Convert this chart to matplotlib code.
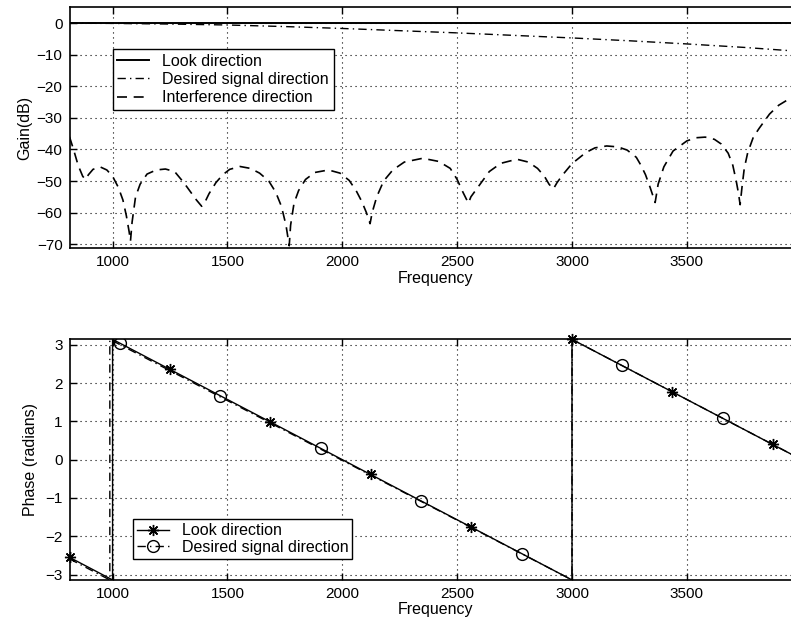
import matplotlib
matplotlib.use("Agg")
import matplotlib.pyplot as plt
from matplotlib.lines import Line2D

plt.rcParams['font.family'] = ['Liberation Sans', 'DejaVu Sans']

# ---------------- data ----------------
# Top: gain (dB) vs frequency
look_gain_f = [812.5, 4000]
look_gain_db = [0, 0]

desired_gain_f = [812.5, 1000, 1250, 1500, 1750, 2000, 2250, 2500, 2750, 3000, 3250, 3500, 3750, 4000]
desired_gain_db = [0, -0.1, -0.3, -0.6, -1.1, -1.7, -2.4, -3.1, -3.9, -4.7, -5.6, -6.6, -7.7, -9.0]

interf_f = [812.5, 830, 850, 870, 882,
            895, 915, 945, 975, 1000, 1025, 1045, 1060, 1072, 1078,
            1085, 1100, 1120, 1150, 1190, 1230, 1270, 1310, 1340, 1365, 1388,
            1400, 1420, 1450, 1480, 1510, 1555, 1600, 1640, 1680, 1710, 1735, 1755, 1769,
            1775, 1790, 1810, 1840, 1880, 1940, 1990, 2030, 2060, 2085, 2105, 2121,
            2130, 2150, 2180, 2220, 2270, 2350, 2420, 2470, 2500, 2525, 2549,
            2560, 2580, 2600, 2640, 2690, 2760, 2810, 2850, 2880, 2900, 2919,
            2935, 2960, 3000, 3060, 3100, 3151, 3200, 3240, 3280, 3300, 3320, 3340, 3362,
            3375, 3400, 3440, 3500, 3540, 3580, 3620, 3650, 3680, 3700, 3715, 3725, 3732,
            3740, 3750, 3765, 3790, 3815, 3860, 3900, 3950, 4000]
interf_db = [-36, -40, -45, -48.5, -49.5,
             -48, -46.3, -45.5, -46.5, -48.5, -52, -56, -61, -66, -69,
             -63, -55, -51, -47.8, -46.5, -46.2, -47, -50.5, -53.5, -56, -58,
             -57, -54, -50.5, -48, -46.3, -45.4, -46, -47.5, -50, -53.5, -58, -64, -70.5,
             -64, -57, -53, -49.5, -47.3, -46.5, -47.5, -49.8, -53, -56.5, -60, -63.5,
             -60, -55, -50, -46.5, -44, -42.8, -43.8, -46, -49.5, -53.5, -57,
             -55, -53, -51, -47, -44.4, -43.1, -44, -46, -48.5, -51, -52.5,
             -50.5, -48, -44.5, -41, -39.5, -38.9, -39.2, -40.2, -42.5, -45, -48, -52, -56.8,
             -51, -45.5, -40.5, -37.3, -36.3, -36.1, -36.8, -38.3, -41.2, -45, -50, -54, -57.5,
             -52, -46, -41, -36, -33.3, -28.8, -26, -23.8, -22]

# Bottom: phase (radians) vs frequency
look_phase_f = [812.5, 1000, 1000, 3000, 3000, 4000]
look_phase = [-2.55, -3.14, 3.14, -3.14, 3.14, 0.0]
look_star_f = [812.5, 1250, 1687.5, 2125, 2562.5, 3000, 3437.5, 3875]
look_star_ph = [-2.55, 2.36, 0.99, -0.38, -1.76, 3.14, 1.77, 0.40]

desired_phase_f = [812.5, 988, 988, 3000, 3000, 4000]
desired_phase = [-2.59, -3.14, 3.14, -3.14, 3.14, 0.0]
desired_circ_f = [1031.25, 1468.75, 1906.25, 2343.75, 2781.25, 3218.75, 3656.25]
desired_circ_ph = [3.05, 1.66, 0.30, -1.08, -2.45, 2.46, 1.09]

gain_ticks = [0, -10, -20, -30, -40, -50, -60, -70]
phase_ticks = [-3, -2, -1, 0, 1, 2, 3]
freq_ticks = [1000, 1500, 2000, 2500, 3000, 3500]

# ---------------- figure ----------------
W, H = 791, 626
fig = plt.figure(figsize=(W / 100, H / 100), dpi=100)

left = 69.5 / W
width = 732.2 / W
ax1 = fig.add_axes([left, 1 - 248.3 / H, width, 241.0 / H])
ax2 = fig.add_axes([left, 1 - 580.0 / H, width, 240.7 / H])

dash_style = (0, (6, 4))
dashdot_style = (0, (6, 3, 1, 3))
grid_style = (0, (1, 3.5))

for ax in (ax1, ax2):
    ax.set_xlim(812.5, 4000)
    ax.set_xticks(freq_ticks)
    ax.tick_params(direction='in', top=True, right=True, length=5, width=1,
                   labelsize=11, colors='black', pad=5)
    ax.grid(True, color='black', linestyle=grid_style, linewidth=0.8)
    for s in ax.spines.values():
        s.set_linewidth(1.2)
    ax.set_xlabel('Frequency', fontsize=11.5, labelpad=1)

# Top plot
ax1.plot(look_gain_f, look_gain_db, color='black', linewidth=1.4, linestyle='-',
         label='Look direction')
ax1.plot(desired_gain_f, desired_gain_db, color='black', linewidth=1.0,
         linestyle=dashdot_style, label='Desired signal direction')
ax1.plot(interf_f, interf_db, color='black', linewidth=1.2, linestyle=dash_style,
         label='Interference direction')
ax1.set_ylim(-71.3, 5)
ax1.set_yticks(gain_ticks)
ax1.set_yticklabels(['0', '\u221210', '\u221220', '\u221230', '\u221240', '\u221250',
                     '\u221260', '\u221270'])
ax1.set_ylabel('Gain(dB)', fontsize=11.5, labelpad=3)
leg1 = ax1.legend(loc='upper left', bbox_to_anchor=(0.059, 0.827), borderaxespad=0,
                  fontsize=11.5, frameon=True, fancybox=False, edgecolor='black',
                  framealpha=1, handlelength=2.0, labelspacing=0.2,
                  borderpad=0.3, handletextpad=0.8)
leg1.get_frame().set_linewidth(1.0)

# Bottom plot
ax2.plot(desired_phase_f, desired_phase, color='black', linewidth=1.0,
         linestyle=dashdot_style)
ax2.plot(look_phase_f, look_phase, color='black', linewidth=1.0, linestyle='-')
ax2.plot(look_star_f, look_star_ph, linestyle='none', marker=(8, 2, 0),
         markersize=8, markeredgecolor='black', markeredgewidth=1.0, clip_on=False)
ax2.plot(desired_circ_f, desired_circ_ph, linestyle='none', marker='o',
         markersize=8.5, markerfacecolor='none', markeredgecolor='black',
         markeredgewidth=1.0)
ax2.set_ylim(-3.14159, 3.14159)
ax2.set_yticks(phase_ticks)
ax2.set_yticklabels(['\u22123', '\u22122', '\u22121', '0', '1', '2', '3'])
ax2.set_ylabel('Phase (radians)', fontsize=11.5, labelpad=5)
handles2 = [
    Line2D([], [], color='black', linewidth=1.0, linestyle='-', marker=(8, 2, 0),
           markersize=8, markeredgewidth=1.0),
    Line2D([], [], color='black', linewidth=1.0, linestyle=dashdot_style, marker='o',
           markersize=8.5, markerfacecolor='none', markeredgewidth=1.0),
]
leg2 = ax2.legend(handles2, ['Look direction', 'Desired signal direction'],
                  loc='lower left', bbox_to_anchor=(0.0867, 0.087), borderaxespad=0,
                  fontsize=11.5, frameon=True, fancybox=False, edgecolor='black',
                  framealpha=1, handlelength=2.0, labelspacing=0.1,
                  borderpad=0.25, handletextpad=0.8)
leg2.get_frame().set_linewidth(1.0)

fig.savefig('out.png', dpi=100)
